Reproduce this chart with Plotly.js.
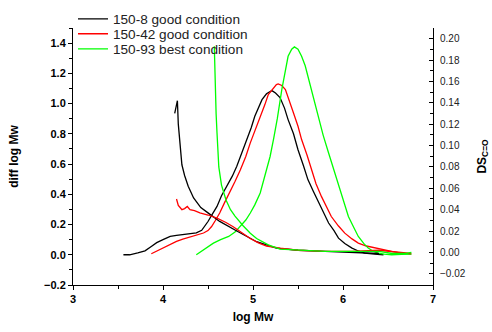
<!DOCTYPE html>
<html>
<head>
<meta charset="utf-8">
<script src="https://cdn.plot.ly/plotly-3.0.1.min.js"></script>
<style>html,body{margin:0;padding:0;background:#fff;}#chart{width:492px;height:332px;}</style>
</head>
<body>
<div id="chart"></div>
<script>
// Series names
const names = ["150-8 good condition", "150-42 good condition", "150-93 best condition"];
const colors = ["#000000", "#ff0000", "#00ff00"];

// Molecular weight distributions (left axis: diff log Mw)
const mwd8_x = [3.56,3.63,3.72,3.80,3.87,3.93,4.0,4.08,4.15,4.22,4.30,4.37,4.43,4.50,4.55,4.60,4.65,4.71,4.77,4.82,4.88,4.93,4.98,5.02,5.06,5.10,5.15,5.19,5.21,5.25,5.30,5.35,5.39,5.45,5.50,5.56,5.61,5.67,5.73,5.78,5.84,5.90,5.95,6.02,6.10,6.17,6.24,6.35,6.45];
const mwd8_y = [0.0,0.0,0.012,0.026,0.055,0.080,0.100,0.121,0.128,0.133,0.140,0.145,0.162,0.22,0.27,0.32,0.39,0.452,0.52,0.585,0.68,0.76,0.84,0.916,0.975,1.026,1.065,1.083,1.086,1.07,1.04,0.97,0.894,0.80,0.695,0.59,0.497,0.42,0.342,0.28,0.21,0.16,0.11,0.075,0.044,0.025,0.011,0.004,0.0];

const mwd42_x = [3.87,3.95,4.02,4.08,4.15,4.22,4.30,4.37,4.45,4.50,4.54,4.58,4.63,4.68,4.74,4.80,4.86,4.92,4.97,5.03,5.08,5.13,5.17,5.22,5.26,5.28,5.32,5.36,5.40,5.45,5.50,5.54,5.60,5.65,5.70,5.76,5.82,5.87,5.95,6.02,6.10,6.17,6.26,6.36,6.45,6.54,6.63,6.73,6.76];
const mwd42_y = [0.007,0.03,0.05,0.070,0.088,0.104,0.118,0.128,0.144,0.160,0.187,0.225,0.276,0.34,0.409,0.485,0.563,0.65,0.74,0.83,0.916,0.99,1.06,1.10,1.126,1.13,1.12,1.093,1.03,0.938,0.85,0.762,0.66,0.563,0.47,0.386,0.31,0.253,0.19,0.143,0.105,0.077,0.058,0.044,0.032,0.022,0.013,0.007,0.005];

const mwd93_x = [4.37,4.45,4.52,4.56,4.64,4.73,4.80,4.86,4.92,4.97,5.02,5.08,5.13,5.19,5.23,5.27,5.32,5.36,5.39,5.43,5.46,5.50,5.54,5.58,5.61,5.67,5.73,5.78,5.84,5.90,5.95,6.01,6.06,6.12,6.17,6.23,6.28,6.34,6.39,6.46,6.54,6.65,6.76];
const mwd93_y = [0.0,0.035,0.065,0.077,0.10,0.121,0.15,0.187,0.23,0.276,0.33,0.409,0.52,0.65,0.77,0.90,1.093,1.22,1.313,1.36,1.375,1.36,1.313,1.25,1.18,1.05,0.916,0.79,0.673,0.56,0.452,0.35,0.253,0.18,0.121,0.075,0.044,0.022,0.011,0.004,0.0,0.002,0.005];

// Degree of substitution DS C=O (right axis)
const ds8_x = [4.13,4.16,4.17,4.19,4.21,4.24,4.28,4.34,4.42,4.50,4.63,4.82,5.04,5.26,5.50,5.80,6.10,6.40];
const ds8_y = [0.130,0.142,0.120,0.099,0.082,0.072,0.062,0.051,0.042,0.037,0.029,0.020,0.010,0.004,0.002,0.001,0.000,-0.001];

const ds42_x = [4.15,4.17,4.19,4.21,4.24,4.27,4.30,4.35,4.41,4.50,4.60,4.70,4.78,4.88,4.97,5.06,5.15,5.30,5.50,5.80,6.10,6.40,6.60,6.75];
const ds42_y = [0.050,0.044,0.042,0.040,0.041,0.043,0.040,0.039,0.037,0.035,0.032,0.028,0.024,0.018,0.013,0.009,0.006,0.004,0.002,0.001,0.001,0.002,0.0,-0.001];

const ds93_x = [4.57,4.575,4.58,4.59,4.60,4.61,4.62,4.65,4.70,4.75,4.80,4.89,4.97,5.04,5.17,5.30,5.50,5.80,6.10,6.40,6.55,6.70,6.76];
const ds93_y = [0.193,0.175,0.152,0.130,0.112,0.095,0.080,0.063,0.049,0.040,0.034,0.025,0.018,0.013,0.007,0.003,0.002,0.001,0.001,0.001,-0.001,-0.001,0.0];

const xTickVals = [3,4,5,6,7];
const font = "Arial, 'Liberation Sans', sans-serif";

const line = (c) => ({color: c, width: 1.3});
const traces = [
  {x: mwd8_x, y: mwd8_y, name: names[0], mode: "lines", line: line(colors[0]), yaxis: "y", legend: "legend"},
  {x: mwd42_x, y: mwd42_y, name: names[1], mode: "lines", line: line(colors[1]), yaxis: "y", legend: "legend2"},
  {x: mwd93_x, y: mwd93_y, name: names[2], mode: "lines", line: line(colors[2]), yaxis: "y", legend: "legend3"},
  {x: ds8_x, y: ds8_y, name: names[0], mode: "lines", line: line(colors[0]), yaxis: "y2", showlegend: false},
  {x: ds42_x, y: ds42_y, name: names[1], mode: "lines", line: line(colors[1]), yaxis: "y2", showlegend: false},
  {x: ds93_x, y: ds93_y, name: names[2], mode: "lines", line: line(colors[2]), yaxis: "y2", showlegend: false}
];

const legendBase = (yy) => ({x: 0.0, y: yy, xanchor: "left", yanchor: "middle", bgcolor: "rgba(0,0,0,0)",
  font: {family: font, size: 13.6, color: "#222"}, itemwidth: 30, borderwidth: 0});

const layout = {
  width: 492, height: 332,
  margin: {l: 73, r: 59, t: 28, b: 47, autoexpand: false},
  paper_bgcolor: "#fff", plot_bgcolor: "#fff",
  font: {family: font, color: "#000"},
  showlegend: true,
  legend: legendBase(1.035),
  legend2: legendBase(0.977),
  legend3: legendBase(0.918),
  xaxis: {
    range: [3, 7], tickvals: xTickVals, ticktext: xTickVals.map(String),
    showgrid: false, zeroline: false, showline: true, linecolor: "#000", linewidth: 1,
    ticks: "outside", ticklen: 4, tickcolor: "#000",
    minor: {dtick: 0.5, ticks: "outside", ticklen: 3, tickcolor: "#000", showgrid: false},
    tickfont: {family: font, size: 11, color: "#000", weight: "bold"},
    title: {text: "<b>log Mw</b>", font: {family: font, size: 12, color: "#000"}, standoff: 8}
  },
  yaxis: {
    range: [-0.2, 1.5], dtick: 0.2, tick0: 0, tickformat: ".1f",
    showgrid: false, zeroline: false, showline: true, linecolor: "#000", linewidth: 1,
    ticks: "outside", ticklen: 4, tickcolor: "#000",
    minor: {dtick: 0.1, ticks: "outside", ticklen: 3, tickcolor: "#000", showgrid: false},
    tickfont: {family: font, size: 11, color: "#000", weight: "bold"},
    title: {text: "<b>diff log Mw</b>", font: {family: font, size: 12, color: "#000"}, standoff: 22}
  },
  yaxis2: {
    overlaying: "y", side: "right", anchor: "x",
    range: [-0.0305, 0.21], dtick: 0.02, tick0: 0, tickformat: ".2f",
    showgrid: false, zeroline: false, showline: true, linecolor: "#000", linewidth: 1,
    ticks: "inside", ticklen: 4, tickcolor: "#000", ticklabelstandoff: 4,
    minor: {dtick: 0.01, ticks: "inside", ticklen: 3, tickcolor: "#000", showgrid: false},
    tickfont: {family: font, size: 10, color: "#222"},
    title: {text: "<b>DS<sub>C=O</sub></b>", font: {family: font, size: 12, color: "#000"}, standoff: 12}
  }
};

Plotly.newPlot("chart", traces, layout, {displayModeBar: false, staticPlot: true});
</script>
</body>
</html>
